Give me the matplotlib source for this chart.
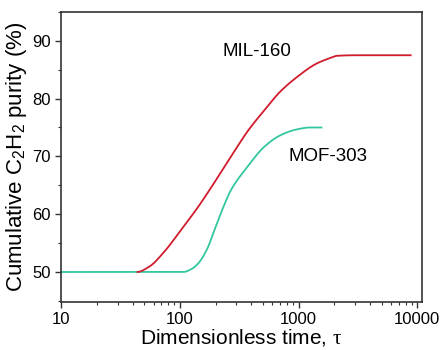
import matplotlib
matplotlib.use("Agg")
import matplotlib.pyplot as plt
import numpy as np
from matplotlib.ticker import MultipleLocator, LogLocator, NullFormatter

plt.rcParams['font.family'] = ['Liberation Sans', 'DejaVu Sans']
plt.rcParams['mathtext.fontset'] = 'custom'
plt.rcParams['mathtext.rm'] = 'Liberation Sans'
plt.rcParams['mathtext.it'] = 'Liberation Serif'

# values
mil_tau = [10, 20, 43.6, 55, 76, 100, 143, 200, 270, 380, 516, 700, 980, 1400, 1830, 2100, 3000, 5000, 8800]
mil_purity = [50, 50, 50, 50.9, 53.8, 57.0, 61.3, 65.8, 70.0, 74.6, 78.0, 81.2, 83.8, 86.0, 87.0, 87.4, 87.5, 87.5, 87.5]

mof_tau = [10, 30, 60, 107, 125, 143, 170, 196, 230, 270, 371, 516, 710, 980, 1250, 1560]
mof_purity = [50, 50, 50, 50, 50.5, 51.5, 54.0, 57.3, 61.0, 64.2, 68.2, 71.7, 73.7, 74.7, 75.0, 75.0]

def smooth(x, y, n=600):
    # monotone cubic (PCHIP-like) curve through the read points, in log-x
    lx = np.log10(x)
    y = np.asarray(y, float)
    xs = np.linspace(lx[0], lx[-1], n)
    h = np.diff(lx)
    d = np.diff(y) / h
    m = np.zeros(len(lx))
    for i in range(1, len(lx) - 1):
        if d[i - 1] * d[i] > 0:
            w1 = 2 * h[i] + h[i - 1]
            w2 = h[i] + 2 * h[i - 1]
            m[i] = (w1 + w2) / (w1 / d[i - 1] + w2 / d[i])
    m[0] = d[0]
    m[-1] = d[-1]
    idx = np.clip(np.searchsorted(lx, xs) - 1, 0, len(lx) - 2)
    t = (xs - lx[idx]) / h[idx]
    h00 = 2 * t**3 - 3 * t**2 + 1
    h10 = t**3 - 2 * t**2 + t
    h01 = -2 * t**3 + 3 * t**2
    h11 = t**3 - t**2
    ys = h00 * y[idx] + h10 * h[idx] * m[idx] + h01 * y[idx + 1] + h11 * h[idx] * m[idx + 1]
    return 10**xs, ys

fig = plt.figure(figsize=(4.43, 3.5), dpi=100)
ax = fig.add_axes([0.138, 0.137, 0.815, 0.829])

x, y = smooth(mof_tau, mof_purity)
ax.plot(x, y, color='#33c79f', lw=1.3)
x, y = smooth(mil_tau, mil_purity)
ax.plot(x[x >= 43.6], y[x >= 43.6], color='#d01c2c', lw=1.3)

ax.set_xscale('log')
ax.set_xlim(10, 11000)
ax.set_ylim(44.8, 95)
ax.set_xticks([10, 100, 1000, 10000])
ax.set_xticklabels(['10', '100', '1000', '10000'])
ax.xaxis.set_minor_locator(LogLocator(base=10, subs=np.arange(2, 10)))
ax.xaxis.set_minor_formatter(NullFormatter())
ax.set_yticks([50, 60, 70, 80, 90])
ax.yaxis.set_minor_locator(MultipleLocator(5))
ax.tick_params(which='both', direction='out', top=False, right=False, labelsize=12, color='#333333')
ax.tick_params(which='major', length=4, width=1)
ax.tick_params(which='minor', length=2.5, width=0.8)
for s in ax.spines.values():
    s.set_linewidth(1.2)
    s.set_color('#333333')

ax.text(0.446, 0.862, 'MIL-160', transform=ax.transAxes, fontsize=13.5, va='center')
ax.text(0.629, 0.5, 'MOF-303', transform=ax.transAxes, fontsize=13.5, va='center')

ax.set_xlabel(r'Dimensionless time, $\mathit{\tau}$', fontsize=15, labelpad=0)
ax.set_ylabel(r'Cumulative C$_2$H$_2$ purity (%)', fontsize=16, labelpad=2)

fig.savefig('out.png', dpi=100)
